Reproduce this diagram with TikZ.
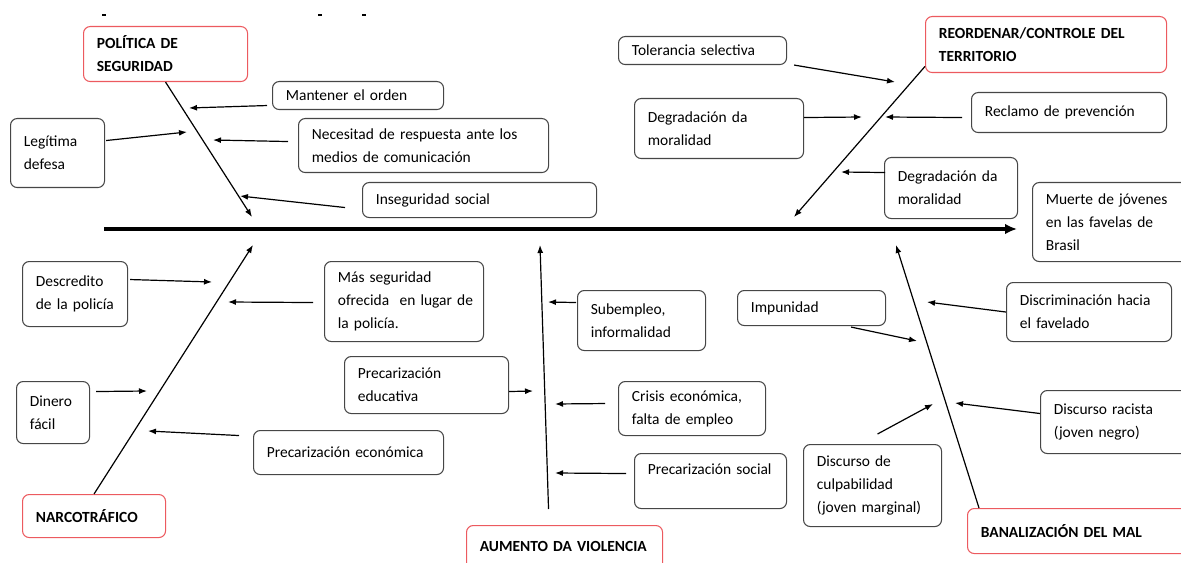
\documentclass[tikz,border=0pt]{standalone}
\usepackage{fontspec}
\setmainfont{Carlito}
\usepackage{tikz}
\usetikzlibrary{arrows.meta, positioning}
\definecolor{bordegris}{RGB}{70, 70, 70}
\definecolor{rojotitulo}{RGB}{236, 90, 95}

\tikzset{
  caja/.style={draw=bordegris, line width=0.8pt, rounded corners=5pt, anchor=north west,
    align=left, inner xsep=10pt, inner ysep=0pt, font=\fontsize{11.6}{17.25}\selectfont},
  titulo/.style={caja, draw=rojotitulo, font=\fontsize{11.6}{17.25}\selectfont\bfseries},
  hueso/.style={line width=0.9pt, -{Latex[length=6pt, width=4.5pt]}},
  flecha/.style={line width=0.9pt, -{Latex[length=6pt, width=4.5pt]}},
  espina/.style={line width=3pt, -{Latex[length=9pt, width=8pt]}}
}

\begin{document}
\begin{tikzpicture}[x=0.75pt, y=-0.75pt]
  \useasboundingbox (0,0) rectangle (1181,563);
  \foreach \x in {102, 318, 362} {
    \fill (\x,14) rectangle ++(4,2);
  }

  % categorias
  \node[titulo, text width=103pt, minimum height=41.25pt] (pol) at (83,26) {POLÍTICA DE\\SEGURIDAD};
  \node[titulo, text width=160.75pt, minimum height=42pt] (reor) at (925,16) {REORDENAR/CONTROLE DEL\\TERRITORIO};
  \node[titulo, text width=87.25pt, minimum height=32.25pt] (narc) at (22,494) {NARCOTRÁFICO};
  \node[titulo, text width=127pt, minimum height=48.75pt] (aume) at (466,525) {AUMENTO DA VIOLENCIA\\ \mbox{}};
  \node[titulo, text width=190pt, minimum height=33.75pt] (bana) at (967,508) {BANALIZACIÓN DEL MAL};
  \node[caja, text width=140pt, minimum height=59.25pt] (muer) at (1032,182) {Muerte de jóvenes\\en las favelas de\\Brasil};

  % causas
  \node[caja, text width=108.25pt, minimum height=21pt] (mant) at (272,81) {Mantener el orden};
  \node[caja, text width=50.5pt, minimum height=51.75pt] (legi) at (10,118) {Legítima\\defesa};
  \node[caja, text width=167.5pt, minimum height=40.5pt] (nece) at (298,118) {Necesitad de respuesta ante los\\medios de comunicación};
  \node[caja, text width=155.5pt, minimum height=26.25pt] (inse) at (362,182) {Inseguridad social};
  \node[caja, text width=106pt, minimum height=21pt] (tole) at (618,36) {Tolerancia selectiva};
  \node[caja, text width=106.75pt, minimum height=45pt] (deg1) at (634,98) {Degradación da\\moralidad};
  \node[caja, text width=126.25pt, minimum height=30pt] (recl) at (971,92) {Reclamo de prevención};
  \node[caja, text width=79.75pt, minimum height=45.75pt] (deg2) at (884,157) {Degradación da\\moralidad};
  \node[caja, text width=58.75pt, minimum height=48.75pt] (desc) at (22,261) {Descredito\\de la policía};
  \node[caja, text width=99.25pt, minimum height=60pt] (mas) at (324,261) {Más seguridad\\\mbox{ofrecida\ \ en lugar de}\\la policía.};
  \node[caja, text width=76pt, minimum height=45pt] (sube) at (577,290) {Subempleo,\\informalidad};
  \node[caja, text width=91pt, minimum height=26.25pt] (impu) at (737,290) {Impunidad};
  \node[caja, text width=103.75pt, minimum height=44.25pt] (disc) at (1006,282) {Discriminación hacia\\el favelado};
  \node[caja, text width=34.75pt, minimum height=46.5pt] (dine) at (16,381) {Dinero\\fácil};
  \node[caja, text width=103pt, minimum height=42.75pt] (educ) at (344,356) {Precarización\\educativa};
  \node[caja, text width=90.25pt, minimum height=40.5pt] (cris) at (618,381) {Crisis económica,\\falta de empleo};
  \node[caja, text width=130pt, minimum height=47.25pt] (raci) at (1040,390) {Discurso racista\\(joven negro)};
  \node[caja, text width=122.5pt, minimum height=33pt] (econ) at (253,430) {Precarización económica};
  \node[caja, text width=94pt, minimum height=41.25pt] (soci) at (634,453) {Precarización social\\ \mbox{}};
  \node[caja, text width=83.5pt, minimum height=61.5pt] (culp) at (803,444) {Discurso de\\culpabilidad\\(joven marginal)};

  % espina y huesos
  \coordinate (ejeA) at (104,229);
  \coordinate (ejeB) at (1017,229);
  \coordinate (polB) at (252,217);
  \coordinate (reorB) at (794,217);
  \coordinate (narcB) at (253,245);
  \coordinate (aumeB) at (540,245);
  \coordinate (banaB) at (896,245);
  \draw[espina] (ejeA) -- (ejeB);
  \draw[hueso] (pol.south) -- (polB);
  \draw[hueso] ([yshift=5pt]reor.south west) -- (reorB);
  \draw[hueso] (narc.north) -- (narcB);
  \draw[hueso] ([shift={(-16,-16)}]aume.north) -- (aumeB);
  \draw[hueso] ([shift={(12,0)}]bana.north west) -- (banaB);

  % puntas de las flechas
  \coordinate (m1) at (189,108);
  \coordinate (m2) at (187,132);
  \coordinate (m3) at (213,140);
  \coordinate (m4) at (240,196);
  \coordinate (m5) at (895,82);
  \coordinate (m6) at (862,117);
  \coordinate (m7) at (885,117);
  \coordinate (m8) at (841,172);
  \coordinate (m9) at (212,282);
  \coordinate (m10) at (228,302);
  \coordinate (m11) at (548,302);
  \coordinate (m12) at (917,341);
  \coordinate (m13) at (927,302);
  \coordinate (m14) at (147,391);
  \coordinate (m15) at (533,391);
  \coordinate (m16) at (555,404);
  \coordinate (m17) at (955,403);
  \coordinate (m18) at (148,431);
  \coordinate (m19) at (555,473);
  \coordinate (m20) at (933,404);

  \draw[flecha] ([shift={(-5,10)}]mant.west) -- (m1);
  \draw[flecha] ([shift={(1,-12.5)}]legi.east) -- (m2);
  \draw[flecha] ([shift={(-10,-4)}]nece.west) -- (m3);
  \draw[flecha] ([shift={(-17,7.5)}]inse.west) -- (m4);
  \draw[flecha] ([shift={(7,0)}]tole.south east) -- (m5);
  \draw[flecha] ([shift={(0,-11)}]deg1.east) -- (m6);
  \draw[flecha] ([shift={(-9,5)}]recl.west) -- (m7);
  \draw[flecha] ([shift={(1,-15.5)}]deg2.west) -- (m8);
  \draw[flecha] ([shift={(2,-14.5)}]desc.east) -- (m9);
  \draw[flecha] ([shift={(-11,1)}]mas.west) -- (m10);
  \draw[flecha] ([shift={(-1,-18)}]sube.west) -- (m11);
  \draw[flecha] ([shift={(-35,1)}]impu.south east) -- (m12);
  \draw[flecha] (disc.west) -- (m13);
  \draw[flecha] ([shift={(6,-21)}]dine.east) -- (m14);
  \draw[flecha] ([shift={(0,6.5)}]educ.east) -- (m15);
  \draw[flecha] ([shift={(-13,-5)}]cris.west) -- (m16);
  \draw[flecha] ([shift={(0,-8.5)}]raci.west) -- (m17);
  \draw[flecha] ([shift={(-14,-17)}]econ.west) -- (m18);
  \draw[flecha] ([shift={(-8,-7.5)}]soci.west) -- (m19);
  \draw[flecha] ([shift={(5,-10)}]culp.north) -- (m20);
\end{tikzpicture}
\end{document}
